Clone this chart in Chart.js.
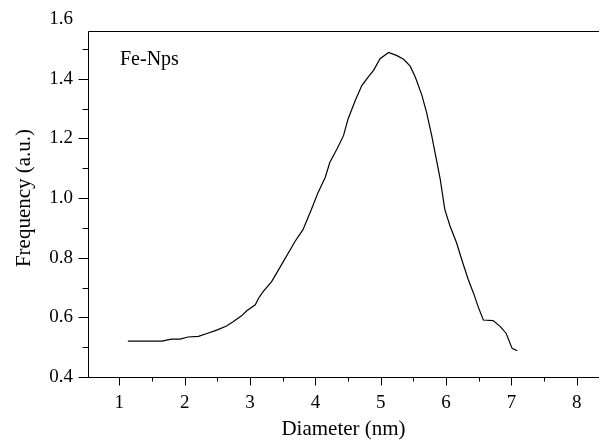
<!DOCTYPE html>
<html><head><meta charset="utf-8">
<script src="https://cdn.jsdelivr.net/npm/chart.js@4/dist/chart.umd.min.js"></script>
<style>html,body{margin:0;padding:0;background:#fff}#wrap{width:601px;height:442px;position:relative}canvas{display:block}</style>
</head><body><div id="wrap"><canvas id="c" width="601" height="442"></canvas></div>
<script>
const seriesLabel = 'Fe-Nps';
const xTitle = 'Diameter (nm)';
const yTitle = 'Frequency (a.u.)';
const diameter = [1.13,1.65,1.80,1.93,2.05,2.21,2.34,2.49,2.64,2.74,2.87,2.95,3.08,3.13,3.20,3.33,3.48,3.69,3.81,3.94,4.04,4.15,4.22,4.33,4.43,4.50,4.61,4.71,4.81,4.89,4.99,5.12,5.24,5.35,5.45,5.53,5.63,5.70,5.78,5.83,5.91,5.98,6.06,6.16,6.24,6.34,6.42,6.49,6.57,6.72,6.83,6.92,7.01,7.09];
const frequency = [0.520,0.520,0.527,0.527,0.534,0.536,0.546,0.557,0.571,0.585,0.605,0.622,0.642,0.664,0.686,0.720,0.776,0.855,0.894,0.962,1.018,1.069,1.119,1.164,1.209,1.265,1.327,1.377,1.406,1.428,1.467,1.488,1.478,1.465,1.442,1.405,1.344,1.288,1.209,1.153,1.063,0.962,0.906,0.850,0.793,0.726,0.681,0.636,0.591,0.589,0.569,0.546,0.496,0.488];
const xTickValues = [1,2,3,4,5,6,7,8];
const yTickValues = [0.4,0.6,0.8,1.0,1.2,1.4,1.6];
const xMinorTicks = [1.5,2.5,3.5,4.5,5.5,6.5,7.5];
const yMinorTicks = [0.5,0.7,0.9,1.1,1.3,1.5];

const FONT = 'Liberation Serif';
const frameTop = 1.56;

const framePlugin = {
  id: 'frame',
  afterDraw(chart) {
    const ctx = chart.ctx;
    const xs = chart.scales.x, ys = chart.scales.y;
    const L = Math.round(xs.left) + 0.5, R = xs.right;
    const B = Math.round(ys.getPixelForValue(0.4)) + 0.5;
    const T = Math.round(ys.getPixelForValue(frameTop)) + 0.5;
    ctx.save();
    ctx.strokeStyle = '#000';
    ctx.lineWidth = 1;
    ctx.beginPath();
    ctx.moveTo(L, T); ctx.lineTo(R, T);
    ctx.moveTo(L, T); ctx.lineTo(L, B);
    ctx.moveTo(L, B); ctx.lineTo(R, B);
    yTickValues.forEach(v => { if (v <= frameTop) { const y = Math.round(ys.getPixelForValue(v)) + 0.5; ctx.moveTo(L - 10, y); ctx.lineTo(L, y); } });
    yMinorTicks.forEach(v => { const y = Math.round(ys.getPixelForValue(v)) + 0.5; ctx.moveTo(L - 6, y); ctx.lineTo(L, y); });
    xTickValues.forEach(v => { const x = Math.round(xs.getPixelForValue(v)) + 0.5; ctx.moveTo(x, B); ctx.lineTo(x, B + 8); });
    xMinorTicks.forEach(v => { const x = Math.round(xs.getPixelForValue(v)) + 0.5; ctx.moveTo(x, B); ctx.lineTo(x, B + 4); });
    ctx.stroke();
    ctx.fillStyle = '#000';
    ctx.font = '20px "' + FONT + '"';
    ctx.textBaseline = 'alphabetic';
    ctx.textAlign = 'left';
    ctx.fillText(seriesLabel, 120, 65);
    ctx.restore();
  }
};

const hiddenGrid = (len) => ({ display: true, drawOnChartArea: false, drawTicks: true, tickLength: len, color: 'rgba(0,0,0,0)' });

new Chart(document.getElementById('c'), {
  type: 'scatter',
  data: {
    datasets: [{
      label: seriesLabel,
      data: diameter.map((x, i) => ({ x: x, y: frequency[i] })),
      showLine: true,
      borderColor: '#000',
      borderWidth: 1.2,
      pointRadius: 0,
      fill: false,
      tension: 0
    }]
  },
  options: {
    responsive: false,
    animation: false,
    devicePixelRatio: 1,
    layout: { padding: { top: 19, right: 2, left: 0, bottom: 0 } },
    plugins: { legend: { display: false }, tooltip: { enabled: false } },
    scales: {
      x: {
        type: 'linear', min: 0.52, max: 8.34,
        afterBuildTicks: s => { s.ticks = xTickValues.map(v => ({ value: v })); },
        afterFit: s => { s.height = 65; },
        grid: hiddenGrid(15),
        border: { display: false },
        ticks: { color: '#000', font: { family: FONT, size: 19 }, padding: 0, maxRotation: 0, autoSkip: false, callback: v => String(v) },
        title: { display: true, text: xTitle, color: '#000', font: { family: FONT, size: 21 }, padding: { top: 0, bottom: 0 } }
      },
      y: {
        type: 'linear', min: 0.4, max: 1.6,
        afterBuildTicks: s => { s.ticks = yTickValues.map(v => ({ value: v })); },
        afterFit: s => { s.width = 88; },
        grid: hiddenGrid(15),
        border: { display: false },
        ticks: { color: '#000', font: { family: FONT, size: 19 }, padding: 0, autoSkip: false, callback: v => Number(v).toFixed(1) },
        title: { display: true, text: yTitle, color: '#000', font: { family: FONT, size: 21 }, padding: { top: 12, bottom: 0 } }
      }
    }
  },
  plugins: [framePlugin]
});
</script>
</body></html>
